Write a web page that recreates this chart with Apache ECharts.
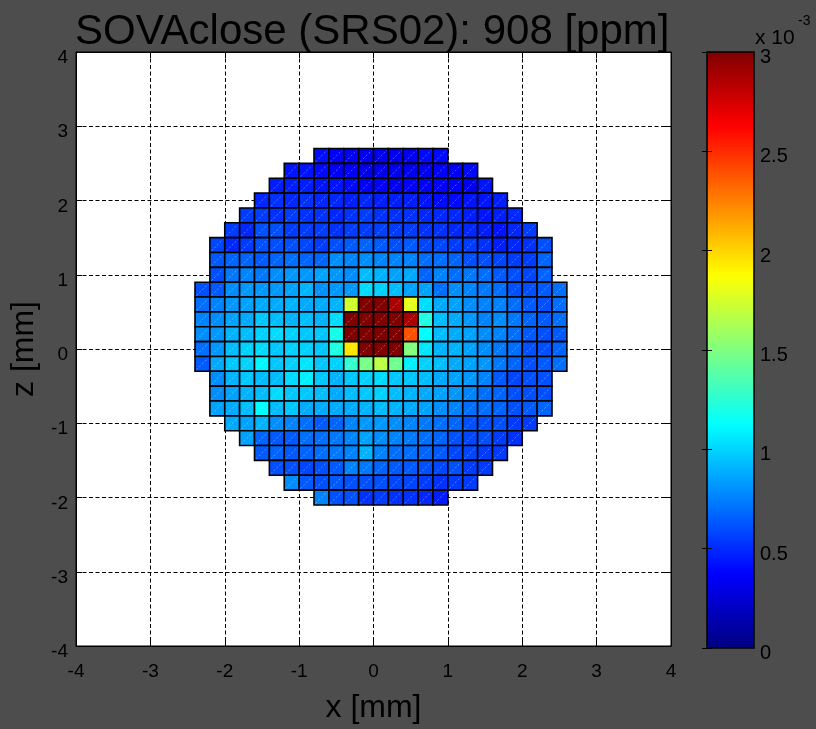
<!DOCTYPE html>
<html><head><meta charset="utf-8">
<script src="https://cdn.jsdelivr.net/npm/echarts@6/dist/echarts.min.js"></script>
<style>html,body{margin:0;padding:0;background:#4d4d4d}#chart{width:816px;height:729px}</style>
</head><body><div id="chart"></div>
<script>
const N = null;
// cell centres (mm)
const xCenters = [-2.3,-2.1,-1.9,-1.7,-1.5,-1.3,-1.1,-0.9,-0.7,-0.5,-0.3,-0.1,0.1,0.3,0.5,0.7,0.9,1.1,1.3,1.5,1.7,1.9,2.1,2.3,2.5];
const zCenters = [2.6,2.4,2.2,2.0,1.8,1.6,1.4,1.2,1.0,0.8,0.6,0.4,0.2,0.0,-0.2,-0.4,-0.6,-0.8,-1.0,-1.2,-1.4,-1.6,-1.8,-2.0];
// values in units of 1e-3, one array per z row (null = no cell)
const row_z2_6  = [N,N,N,N,N,N,N,N,0.42,0.35,0.34,0.33,0.33,0.33,0.33,0.40,0.40,N,N,N,N,N,N,N,N];
const row_z2_4  = [N,N,N,N,N,N,0.43,0.43,0.40,0.35,0.35,0.32,0.32,0.32,0.33,0.33,0.37,0.33,0.40,N,N,N,N,N,N];
const row_z2_2  = [N,N,N,N,N,0.46,0.46,0.46,0.43,0.43,0.40,0.37,0.37,0.33,0.37,0.37,0.37,0.37,0.33,0.43,N,N,N,N,N];
const row_z2_0  = [N,N,N,N,0.49,0.52,0.49,0.52,0.49,0.49,0.46,0.49,0.46,0.46,0.46,0.43,0.40,0.40,0.43,0.43,0.46,N,N,N,N];
const row_z1_8  = [N,N,N,0.55,0.55,0.52,0.55,0.52,0.52,0.49,0.52,0.55,0.52,0.52,0.52,0.49,0.49,0.49,0.46,0.43,0.46,0.49,N,N,N];
const row_z1_6  = [N,N,0.55,0.49,0.61,0.61,0.55,0.55,0.55,0.52,0.55,0.55,0.56,0.55,0.55,0.52,0.52,0.49,0.49,0.46,0.43,0.49,0.55,N,N];
const row_z1_4  = [N,0.58,0.49,0.55,0.61,0.61,0.61,0.58,0.55,0.61,0.64,0.67,0.64,0.61,0.64,0.58,0.58,0.55,0.55,0.52,0.46,0.49,0.52,0.61,N];
const row_z1_2  = [N,0.64,0.67,0.67,0.64,0.67,0.70,0.67,0.67,0.79,0.76,0.79,0.77,0.76,0.76,0.70,0.70,0.67,0.61,0.61,0.58,0.55,0.55,0.67,N];
const row_z1_0  = [N,0.61,0.73,0.76,0.73,0.79,0.82,0.82,0.85,0.82,0.79,0.93,0.90,0.85,0.87,0.67,0.76,0.70,0.73,0.70,0.64,0.61,0.58,0.67,N];
const row_z0_8  = [0.61,0.64,0.79,0.82,0.82,0.82,0.85,0.90,0.80,0.82,0.82,1.02,0.99,0.93,0.85,0.85,0.70,0.79,0.76,0.73,0.70,0.61,0.61,0.64,0.70];
const row_z0_6  = [0.70,0.76,0.82,0.85,0.875,0.875,0.90,0.875,0.875,0.90,1.74,3.0,3.0,2.88,1.80,1.02,0.875,0.85,0.79,0.76,0.76,0.70,0.64,0.61,0.70];
const row_z0_4  = [0.76,0.79,0.85,0.875,0.96,0.93,0.90,0.93,0.90,1.02,3.0,3.0,3.0,3.0,2.88,1.21,0.93,0.875,0.82,0.76,0.79,0.73,0.67,0.64,0.70];
const row_z0_2  = [0.79,0.82,0.90,0.93,0.99,1.02,0.99,0.96,0.96,1.18,3.0,3.0,3.0,3.0,2.39,1.12,0.93,0.875,0.85,0.79,0.76,0.70,0.64,0.61,0.64];
const row_z0_0  = [0.70,0.82,0.93,0.99,1.02,0.96,0.99,0.99,0.96,1.21,1.95,3.0,3.0,3.0,1.51,1.05,0.90,0.90,0.85,0.79,0.73,0.70,0.61,0.61,0.67];
const row_zm0_2 = [0.64,0.875,0.96,0.99,1.10,0.96,0.99,1.05,0.96,0.99,1.27,1.48,1.68,1.45,1.08,0.99,0.93,0.875,0.85,0.82,0.73,0.67,0.61,0.64,0.70];
const row_zm0_4 = [N,0.79,0.90,0.96,0.93,0.93,1.02,1.08,0.96,0.90,0.96,0.99,1.02,0.96,0.96,0.93,0.875,0.85,0.82,0.76,0.64,0.58,0.61,0.61,N];
const row_zm0_6 = [N,0.79,0.85,0.90,0.93,1.02,0.96,0.96,0.93,0.875,0.93,0.96,0.99,0.93,0.90,0.875,0.85,0.82,0.76,0.70,0.67,0.61,0.61,0.61,N];
const row_zm0_8 = [N,0.85,0.875,0.93,1.125,0.93,0.96,0.875,0.875,0.875,0.875,0.90,0.93,0.90,0.875,0.85,0.79,0.76,0.70,0.70,0.67,0.61,0.64,0.67,N];
const row_zm1_0 = [N,N,0.875,0.85,0.90,0.79,0.76,0.70,0.64,0.67,0.76,0.82,0.82,0.79,0.76,0.73,0.70,0.67,0.61,0.61,0.61,0.55,0.55,N,N];
const row_zm1_2 = [N,N,N,0.85,0.67,0.64,0.64,0.70,0.70,0.73,0.76,0.85,0.79,0.76,0.73,0.70,0.67,0.61,0.58,0.61,0.55,0.52,N,N,N];
const row_zm1_4 = [N,N,N,N,0.64,0.67,0.64,0.67,0.70,0.73,0.76,0.90,0.76,0.70,0.70,0.67,0.64,0.58,0.58,0.55,0.55,N,N,N,N];
const row_zm1_6 = [N,N,N,N,N,0.61,0.61,0.58,0.61,0.64,0.76,0.73,0.67,0.64,0.64,0.61,0.58,0.61,0.55,0.55,N,N,N,N,N];
const row_zm1_8 = [N,N,N,N,N,N,0.79,0.64,0.61,0.64,0.61,0.61,0.61,0.58,0.58,0.55,0.52,0.55,0.55,N,N,N,N,N,N];
const row_zm2_0 = [N,N,N,N,N,N,N,N,0.76,0.61,0.61,0.52,0.55,0.52,0.52,0.49,0.46,N,N,N,N,N,N,N,N];
const rows = [row_z2_6,row_z2_4,row_z2_2,row_z2_0,row_z1_8,row_z1_6,row_z1_4,row_z1_2,row_z1_0,row_z0_8,row_z0_6,row_z0_4,row_z0_2,row_z0_0,row_zm0_2,row_zm0_4,row_zm0_6,row_zm0_8,row_zm1_0,row_zm1_2,row_zm1_4,row_zm1_6,row_zm1_8,row_zm2_0];
const jetColors = ['#000080','#0000ff','#0080ff','#00ffff','#80ff80','#ffff00','#ff8000','#ff0000','#800000'];

const data = [];
zCenters.forEach((z, i) => rows[i].forEach((v, j) => { if (v !== null) data.push([xCenters[j], z, v]); }));

const HALF = 0.1;
const FONT = 'Liberation Sans, Arial, sans-serif';
const chart = echarts.init(document.getElementById('chart'), null, {renderer: 'canvas'});
const blackLine = {show: true, onZero: false, lineStyle: {color: '#000', width: 1}};
chart.setOption({
  backgroundColor: '#4d4d4d',
  animation: false,
  textStyle: {fontFamily: FONT},
  title: [
    {text: 'SOVAclose (SRS02): 908 [ppm]', left: 75, top: 11, padding: 0,
     textStyle: {fontFamily: FONT, fontSize: 42, fontWeight: 'normal', color: '#000'}},
    {text: 'x 10', left: 755, top: 28, padding: 0,
     textStyle: {fontFamily: FONT, fontSize: 21, fontWeight: 'normal', color: '#000'}},
    {text: '-3', left: 798, top: 14, padding: 0,
     textStyle: {fontFamily: FONT, fontSize: 14, fontWeight: 'normal', color: '#000'}}
  ],
  grid: [
    {left: 76, top: 52, width: 595, height: 595, show: true, backgroundColor: '#fff', borderColor: '#000', borderWidth: 1},
    {left: 707, top: 52, width: 47, height: 596, show: true, backgroundColor: 'transparent', borderColor: '#000', borderWidth: 1.5, z: 10}
  ],
  xAxis: [
    {gridIndex: 0, type: 'value', min: -4, max: 4, interval: 1, position: 'bottom',
     name: 'x [mm]', nameLocation: 'middle', nameGap: 46,
     nameTextStyle: {fontFamily: FONT, fontSize: 32, color: '#000'},
     axisLine: blackLine, axisTick: {inside: true, length: 6, lineStyle: {color: '#000'}},
     axisLabel: {fontFamily: FONT, fontSize: 19, color: '#000', margin: 16},
     splitLine: {show: true, lineStyle: {color: '#000', width: 1, type: [4, 2.5]}}},
    {gridIndex: 0, type: 'value', min: -4, max: 4, interval: 1, position: 'top',
     axisLine: blackLine, axisTick: {inside: true, length: 6, lineStyle: {color: '#000'}},
     axisLabel: {show: false}, splitLine: {show: false}},
    {gridIndex: 1, type: 'value', min: 0, max: 1, show: false}
  ],
  yAxis: [
    {gridIndex: 0, type: 'value', min: -4, max: 4, interval: 1, position: 'left',
     name: 'z [mm]', nameLocation: 'middle', nameRotate: 90, nameGap: 31,
     nameTextStyle: {fontFamily: FONT, fontSize: 32, color: '#000'},
     axisLine: blackLine, axisTick: {inside: true, length: 6, lineStyle: {color: '#000'}},
     axisLabel: {fontFamily: FONT, fontSize: 19, color: '#000', margin: 8, verticalAlign: 'top', lineHeight: 12},
     splitLine: {show: true, lineStyle: {color: '#000', width: 1, type: [4, 2.5]}}},
    {gridIndex: 0, type: 'value', min: -4, max: 4, interval: 1, position: 'right',
     axisLine: blackLine, axisTick: {inside: true, length: 6, lineStyle: {color: '#000'}},
     axisLabel: {show: false}, splitLine: {show: false}},
    {gridIndex: 1, type: 'value', min: 0, max: 3, interval: 0.5, position: 'right', z: 10,
     axisLine: {show: false}, axisTick: {inside: true, length: 5, lineStyle: {color: '#000'}},
     axisLabel: {fontFamily: FONT, fontSize: 20, color: '#000', margin: 6, verticalAlign: 'top', lineHeight: 11},
     splitLine: {show: false}},
    {gridIndex: 1, type: 'value', min: 0, max: 3, interval: 0.5, position: 'left', z: 10,
     axisLine: {show: false}, axisTick: {inside: true, length: 5, lineStyle: {color: '#000'}},
     axisLabel: {show: false}, splitLine: {show: false}}
  ],
  visualMap: {
    type: 'continuous', min: 0, max: 3, dimension: 2, seriesIndex: 0,
    inRange: {color: jetColors}, calculable: false, orient: 'vertical',
    itemWidth: 47, itemHeight: 596, left: 707, top: 52, padding: 0
  },
  series: [{
    type: 'custom', xAxisIndex: 0, yAxisIndex: 0, data: data, encode: {x: 0, y: 1},
    renderItem: function (params, api) {
      const x = api.value(0), z = api.value(1);
      const p0 = api.coord([x - HALF, z + HALF]);
      const p1 = api.coord([x + HALF, z - HALF]);
      return {type: 'group', children: [
        {type: 'rect', shape: {x: p0[0], y: p0[1], width: p1[0] - p0[0], height: p1[1] - p0[1]},
         style: {fill: api.visual('color'), stroke: '#000', lineWidth: 1.6}},
        {type: 'line', shape: {x1: p0[0] + 1.5, y1: p1[1] - 1.5, x2: p1[0] - 1.5, y2: p0[1] + 1.5},
         style: {stroke: 'rgba(255,255,255,0.35)', lineWidth: 1, lineDash: [2, 2]}}
      ]};
    }
  }]
});
</script></body></html>
